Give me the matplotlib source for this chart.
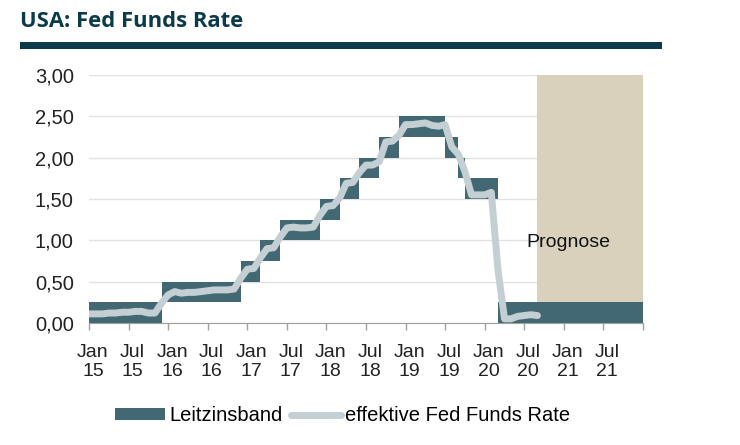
import matplotlib
matplotlib.use('Agg')
import matplotlib.pyplot as plt
from matplotlib.patches import Rectangle, Patch
from matplotlib.lines import Line2D
import numpy as np

#==============================================================================
# Daten (Monatsindex: 0 = Jan 2015)

# Leitzinsband: Monat ab dem die Untergrenze gilt
band_start = [0, 11, 23, 26, 29, 35, 38, 41, 44, 47, 54, 56, 57, 62]
band_lower = [0.00, 0.25, 0.50, 0.75, 1.00, 1.25, 1.50, 1.75, 2.00, 2.25,
              2.00, 1.75, 1.50, 0.00]
band_width = 0.25
band_end = 84   # Ende 2021

# effektive Fed Funds Rate, monatlich Jan 2015 - Sep 2020
effr = [0.11, 0.11, 0.11, 0.12, 0.12, 0.13, 0.13, 0.14, 0.14, 0.12, 0.12, 0.24,
        0.34, 0.38, 0.36, 0.37, 0.37, 0.38, 0.39, 0.40, 0.40, 0.40, 0.41, 0.54,
        0.65, 0.66, 0.79, 0.90, 0.91, 1.04, 1.15, 1.16, 1.15, 1.15, 1.16, 1.30,
        1.41, 1.42, 1.51, 1.69, 1.70, 1.82, 1.91, 1.91, 1.95, 2.19, 2.20, 2.27,
        2.40, 2.40, 2.41, 2.42, 2.39, 2.38, 2.40, 2.13, 2.04, 1.83, 1.55, 1.55,
        1.55, 1.58, 0.65, 0.05, 0.05, 0.08, 0.09, 0.10, 0.09]

prognose_start = 68   # Sep 2020
tick_labels = ['Jan\n15', 'Jul\n15', 'Jan\n16', 'Jul\n16', 'Jan\n17', 'Jul\n17',
               'Jan\n18', 'Jul\n18', 'Jan\n19', 'Jul\n19', 'Jan\n20', 'Jul\n20',
               'Jan\n21', 'Jul\n21']
yticks = [0.0, 0.5, 1.0, 1.5, 2.0, 2.5, 3.0]

#==============================================================================
# Farben
c_band = '#416873'
c_line = '#c3cfd3'
c_prog = '#d9d1bb'
c_title = '#0b3a4a'

plt.rcParams['font.family'] = ['Liberation Sans', 'DejaVu Sans']
fs = 14

fig = plt.figure(figsize=(7.4, 4.45), dpi=100)
ax = fig.add_axes([0.1203, 0.2742, 0.7486, 0.5573])

# Prognose-Bereich
ax.axvspan(prognose_start, band_end, ymin=0, ymax=1, color=c_prog, lw=0, zorder=1)
ax.text(72.7, 0.97, 'Prognose', fontsize=fs, ha='center', va='center',
        color='#111111', zorder=5)

# Leitzinsband als Stufenflaeche
months = np.arange(band_end + 1)
lower = np.zeros(len(months))
for s, v in zip(band_start, band_lower):
    lower[s:] = v
ax.fill_between(months, lower, lower + band_width, step='post',
                color=c_band, lw=0, zorder=2)

# effektive Rate
ax.plot(np.arange(len(effr)), effr, color=c_line, lw=5.0,
        solid_capstyle='round', solid_joinstyle='round', zorder=3)

# Achsen
ax.set_xlim(0, band_end)
ax.set_ylim(0, 3.0)
ax.set_yticks(yticks)
ax.set_yticklabels([('%.2f' % v).replace('.', ',') for v in yticks])
ax.yaxis.grid(True, color='#e2e2e2', lw=1.0, zorder=0)
ax.set_axisbelow(True)
ax.tick_params(axis='y', length=0, pad=11, labelsize=fs + 0.5, labelcolor='#222222')

ax.set_xticks(np.arange(0, band_end + 1, 6))
ax.set_xticklabels([])
ax.set_xticks(np.arange(0, 84, 6) + 0.6, minor=True)
ax.set_xticklabels(tick_labels, minor=True, linespacing=1.15)
ax.tick_params(axis='x', which='major', length=5, color='#a0a0a0', width=1)
ax.tick_params(axis='x', which='minor', length=0, pad=15, labelsize=fs,
               labelcolor='#222222')

for sp in ['top', 'right', 'left']:
    ax.spines[sp].set_visible(False)
ax.spines['bottom'].set_color('#a0a0a0')
ax.spines['bottom'].set_zorder(4)

# Legende
handles = [Patch(facecolor=c_band, edgecolor='none'),
           Line2D([0], [0], color=c_line, lw=5.0, solid_capstyle='round')]
fig.legend(handles, ['Leitzinsband', 'effektive Fed Funds Rate'],
           loc='center', bbox_to_anchor=(0.463, 0.066), ncol=2, frameon=False,
           fontsize=fs + 0.5, handlelength=2.5, handleheight=0.5,
           handletextpad=0.2, columnspacing=0.4)

# Titel und Balken
fig.text(0.027, 0.952, 'USA: Fed Funds Rate', fontsize=15.8, fontweight='bold',
         family=['Open Sans', 'DejaVu Sans'], color=c_title,
         va='center', ha='left')
fig.patches.append(Rectangle((0.027, 0.8892), 0.867, 0.017,
                             transform=fig.transFigure, color=c_title, lw=0))

fig.savefig('out.png', dpi=100)
